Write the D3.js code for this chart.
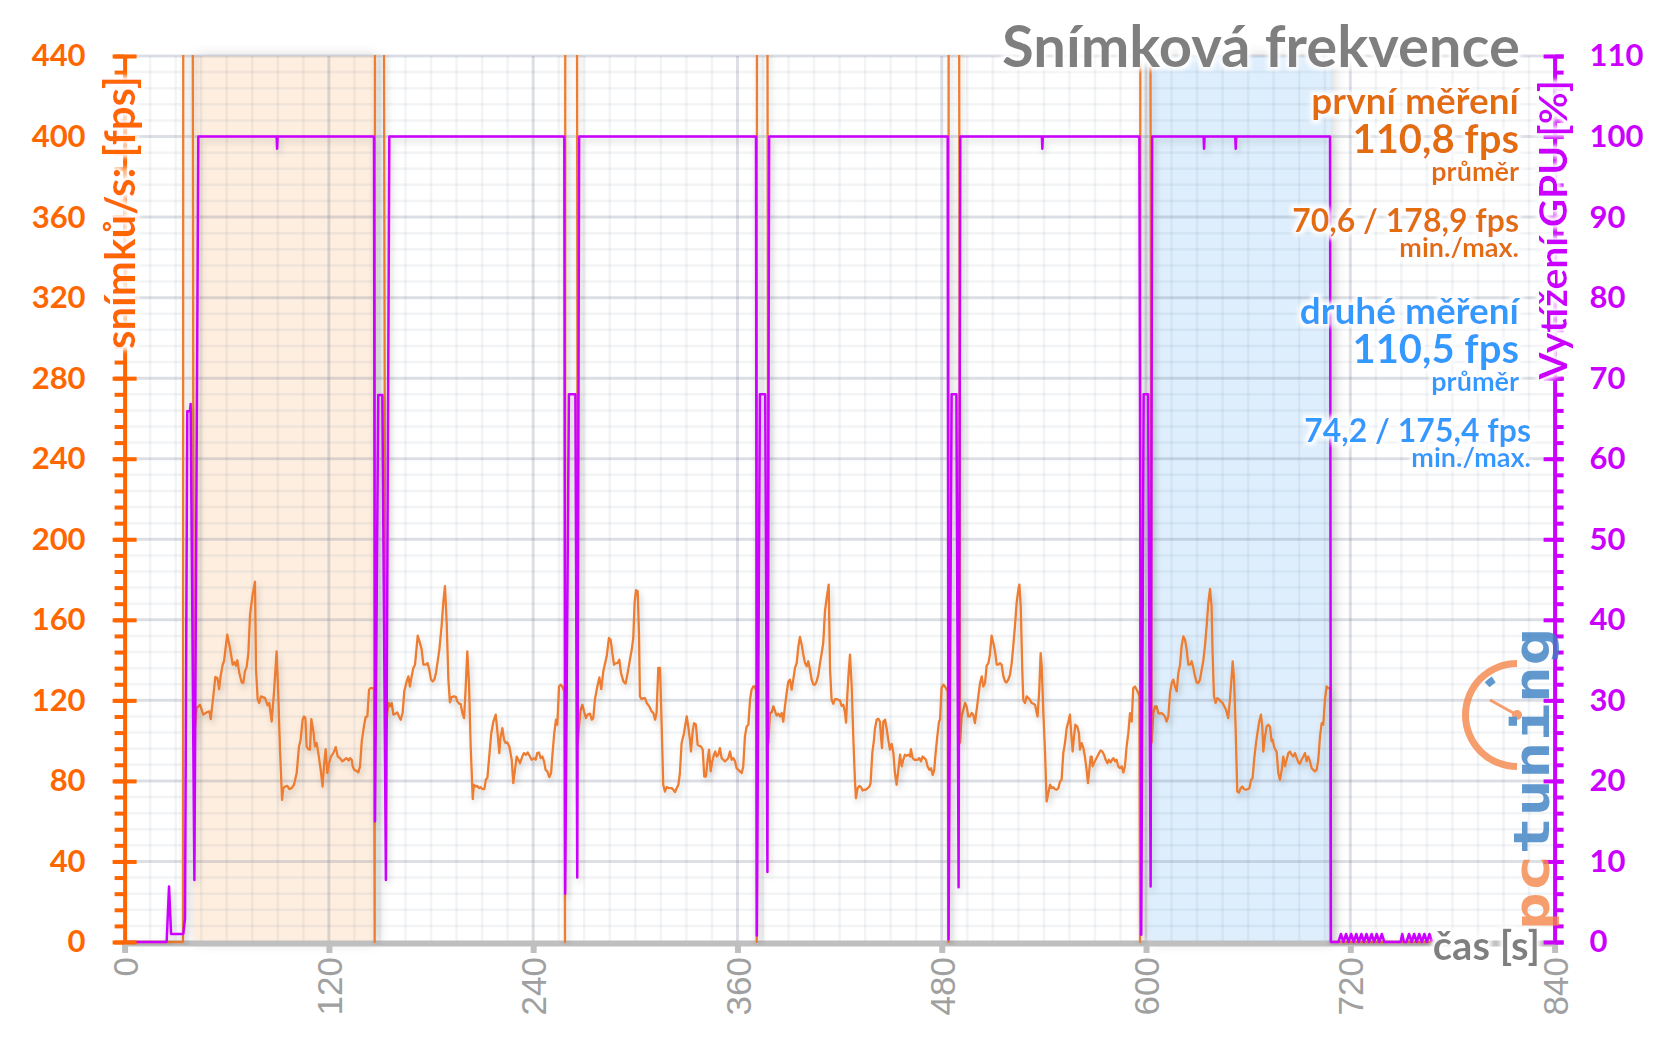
<!DOCTYPE html>
<html>
<head>
<meta charset="utf-8">
<script src="https://cdn.jsdelivr.net/npm/d3@7"></script>
<style>
body { margin: 0; background: #fff; }
svg { display: block; }
</style>
</head>
<body>
<script>
// ---- data (time in s, fps / GPU %) ----
var timeTicks = [0, 120, 240, 360, 480, 600, 720, 840];
var fpsTicks = [0, 40, 80, 120, 160, 200, 240, 280, 320, 360, 400, 440];
var gpuTicks = [0, 10, 20, 30, 40, 50, 60, 70, 80, 90, 100, 110];

var firstRunText = ["první měření", "110,8 fps", "průměr", "70,6 / 178,9 fps", "min./max."];
var secondRunText = ["druhé měření", "110,5 fps", "průměr", "74,2 / 175,4 fps", "min./max."];

var firstBand = [40.4, 146.5];
var secondBand = [601.5, 708.6];

// loading screens between the runs (fps goes far above the plot)
var fpsTransitions = [
  [0, 0], [34.3, 0], [34.5, 600], [39.8, 600], [40.6, 99],
  [146.9, 0], [147.1, 600], [152.0, 600], [153.2, 99],
  [258.7, 0], [258.9, 600], [265.6, 600], [266.2, 99],
  [371.3, 0], [371.5, 600], [377.4, 600], [378.2, 99],
  [483.9, 0], [484.1, 600], [490.0, 600], [490.8, 99],
  [596.5, 0], [596.7, 600], [602.3, 600], [603.3, 99],
  [708.5, 0], [768, 0]
];

var fpsRun1 = [
  [42.3,116.2],[44.3,117.8],[46.2,112.9],[48.2,114.0],[49.8,114.5],[50.6,110.7],[52.1,122.0],[53.3,131.6],
  [54.5,131.1],[55.5,125.6],[56.4,131.9],[57.6,137.7],[58.4,139.4],[60.3,152.6],[61.9,146.0],[63.5,137.7],
  [64.5,138.9],[65.4,137.2],[66.2,139.9],[67.4,133.6],[68.8,128.9],[69.7,128.6],[70.7,134.4],[71.7,136.6],
  [72.7,143.5],[73.7,162.6],[75.2,172.5],[76.6,178.9],[77.2,135.2],[78.2,120.3],[79.1,118.7],[80.1,122.0],
  [81.5,121.5],[82.5,121.1],[83.5,118.7],[84.0,117.5],[85.0,118.7],[86.4,109.5],[87.8,124.5],[89.3,144.3],
  [90.3,122.0],[91.3,95.5],[92.5,70.6],[93.2,76.4],[94.2,77.2],[95.6,77.5],[96.8,75.9],[98.1,76.4],
  [99.5,78.1],[101.1,83.9],[102.4,96.8],[103.4,100.4],[104.6,110.4],[105.4,112.0],[106.2,111.2],[106.9,97.1],
  [107.9,95.8],[108.9,95.5],[109.7,110.7],[110.9,104.6],[111.8,97.1],[112.8,98.8],[113.8,93.8],[115.2,85.5],
  [116.3,77.2],[117.1,87.2],[118.1,95.8],[119.1,83.9],[120.1,88.8],[121.2,92.1],[122.6,93.8],[124.0,96.8],
  [125.2,92.1],[126.5,91.3],[127.9,89.7],[129.1,90.5],[130.4,91.3],[131.6,90.1],[132.4,91.3],[133.4,90.5],
  [134.0,87.2],[134.9,85.5],[136.3,85.0],[137.3,84.2],[138.3,87.2],[139.3,99.6],[140.6,107.0],[141.6,111.7],
  [142.6,112.0],[143.6,125.3],[144.5,126.1],[145.7,126.1],[146.5,125.3]
];

var fpsRun2 = [
  [154.3,113.7],[155.1,118.7],[155.9,117.0],[156.9,118.7],[157.9,112.9],[159.2,113.4],[160.2,114.0],[161.2,112.0],
  [162.2,110.4],[163.3,113.7],[164.3,124.5],[165.7,129.4],[166.7,131.9],[167.6,126.9],[168.6,131.9],[169.6,136.1],
  [170.6,137.7],[172.2,152.1],[173.5,148.5],[174.5,145.2],[175.5,137.7],[176.9,137.7],[178.0,138.5],[179.0,135.2],
  [180.0,130.3],[181.0,129.4],[181.9,130.3],[182.9,133.6],[183.9,139.4],[184.9,145.2],[186.2,156.8],[187.2,168.4],
  [188.2,176.7],[189.2,158.4],[190.2,130.3],[191.1,119.0],[192.1,121.6],[193.5,122.0],[194.7,121.6],[195.4,119.5],
  [196.6,118.3],[197.4,118.2],[198.4,113.7],[199.4,111.2],[200.3,125.3],[201.3,144.3],[202.3,128.6],[203.3,97.1],
  [204.5,71.0],[205.2,78.1],[206.2,77.2],[207.2,77.5],[208.2,76.4],[209.2,76.9],[210.1,75.9],[211.3,75.9],
  [212.3,80.9],[213.1,81.4],[214.2,92.1],[215.4,103.7],[216.6,109.5],[218.0,112.9],[219.1,103.7],[220.1,93.8],
  [220.9,102.1],[221.9,106.2],[222.9,100.4],[223.8,98.8],[224.8,99.1],[226.0,97.1],[227.4,90.5],[228.3,78.9],
  [229.3,85.5],[230.3,92.1],[231.3,90.5],[232.3,88.8],[233.6,92.1],[234.6,93.8],[235.8,93.0],[236.8,94.1],
  [238.1,92.1],[239.1,90.5],[240.5,91.3],[241.5,90.5],[242.4,93.8],[243.4,94.1],[244.4,91.3],[245.4,92.1],
  [246.4,89.7],[247.3,85.5],[248.3,84.7],[249.5,81.9],[250.5,83.9],[251.4,93.8],[252.4,103.7],[253.4,110.4],
  [254.2,107.9],[255.2,126.9],[256.2,127.8],[257.1,126.9],[258.3,124.5]
];

var fpsRun3 = [
  [267.1,108.7],[267.9,115.3],[268.9,117.8],[269.9,114.5],[271.0,111.2],[272.0,112.9],[273.4,113.4],[274.4,110.4],
  [275.3,111.2],[276.3,120.6],[277.7,126.9],[278.9,131.4],[280.0,125.6],[281.2,134.4],[282.2,138.2],[283.2,141.9],
  [284.5,151.0],[285.5,150.1],[286.5,143.5],[287.5,137.7],[288.7,138.5],[289.6,138.5],[290.6,140.2],[291.6,133.6],
  [293.0,129.4],[294.3,128.3],[295.5,133.6],[296.9,140.5],[297.9,145.2],[298.8,151.0],[299.6,168.4],[300.4,174.7],
  [301.4,174.2],[302.2,151.8],[302.7,122.0],[303.7,120.6],[304.7,121.1],[305.7,121.1],[306.7,118.7],[308.2,117.0],
  [309.6,114.5],[310.6,113.7],[311.6,110.4],[312.5,113.7],[313.5,136.1],[314.5,136.1],[315.5,107.0],[316.4,78.1],
  [317.4,74.7],[318.4,76.9],[319.8,76.4],[321.4,76.4],[322.3,75.6],[323.3,74.4],[324.3,76.4],[325.3,78.1],
  [326.2,83.9],[327.2,98.8],[328.6,103.7],[330.2,112.0],[331.1,107.0],[332.1,100.4],[332.7,94.6],[333.7,104.6],
  [334.5,108.7],[335.6,107.9],[336.6,97.9],[337.6,97.4],[338.6,97.1],[339.6,95.5],[340.5,82.2],[341.5,82.2],
  [342.5,90.5],[343.3,95.5],[344.3,84.7],[345.2,89.7],[346.2,93.0],[347.0,94.6],[347.8,92.1],[348.8,93.0],
  [349.7,96.3],[350.7,91.3],[351.7,90.5],[352.7,89.7],[353.7,90.5],[354.6,91.3],[355.6,94.6],[356.6,90.5],
  [357.6,91.3],[358.6,89.7],[359.5,86.3],[360.5,85.5],[361.5,84.7],[362.5,83.9],[363.4,87.2],[364.4,102.1],
  [365.4,107.0],[366.4,107.9],[367.4,120.3],[368.3,125.3],[369.3,126.9],[370.3,126.9],[370.9,124.5]
];

var fpsRun4 = [
  [379.1,113.7],[380.1,114.0],[381.1,117.0],[382.1,114.5],[383.0,112.4],[384.0,113.4],[385.0,112.0],[386.0,113.7],
  [386.9,109.5],[387.9,117.0],[388.9,123.6],[389.9,129.4],[390.9,130.3],[391.8,125.3],[392.8,130.3],[393.8,136.1],
  [394.8,138.5],[395.8,146.8],[396.7,151.5],[397.7,147.7],[398.7,142.7],[399.7,138.5],[400.7,136.9],[401.6,139.4],
  [402.6,135.2],[403.6,130.3],[404.6,127.8],[405.5,127.8],[406.5,129.4],[407.5,132.7],[408.5,138.5],[409.5,143.5],
  [410.4,148.5],[411.4,164.2],[412.4,170.8],[413.6,177.5],[414.4,135.2],[415.3,120.3],[416.3,118.3],[417.3,120.6],
  [418.3,120.6],[419.2,120.3],[420.2,120.0],[421.2,117.3],[422.2,117.8],[423.2,113.7],[423.8,109.0],[424.5,122.0],
  [425.3,133.6],[426.1,142.7],[427.1,126.9],[428.1,100.4],[429.0,80.5],[429.6,71.4],[430.6,76.4],[431.6,77.5],
  [432.6,76.9],[433.5,75.2],[434.5,75.6],[435.5,75.6],[436.5,76.4],[437.5,77.2],[438.2,78.9],[439.2,93.8],
  [440.2,100.4],[440.8,106.2],[441.8,110.4],[442.7,110.9],[443.7,109.5],[444.3,102.1],[444.9,96.3],[445.7,109.5],
  [446.7,110.4],[447.6,106.2],[448.6,100.4],[449.6,95.5],[450.6,98.4],[451.6,93.8],[452.5,83.9],[453.5,78.1],
  [454.5,85.5],[455.5,93.0],[456.5,87.2],[457.4,90.5],[458.4,93.0],[459.4,92.5],[460.4,93.0],[461.4,92.1],
  [461.9,95.8],[462.9,91.3],[463.9,90.5],[464.9,90.5],[465.9,90.5],[466.8,91.3],[467.8,89.7],[468.8,92.1],
  [469.8,91.3],[470.7,90.5],[471.7,87.2],[472.7,85.5],[473.7,86.3],[474.7,83.0],[475.6,85.5],[476.4,93.8],
  [477.4,102.1],[478.4,109.5],[479.0,110.4],[479.9,126.1],[480.9,127.8],[481.9,126.9],[482.9,125.3],[483.5,124.5]
];

var fpsRun5 = [
  [491.7,112.0],[492.7,115.3],[493.7,118.7],[494.6,117.0],[495.6,112.0],[496.6,112.0],[497.6,113.7],[498.5,112.9],
  [499.5,108.7],[500.5,115.3],[501.5,122.0],[502.5,128.6],[503.5,131.9],[504.4,126.9],[505.4,128.6],[506.4,137.2],
  [507.4,138.5],[508.3,142.7],[509.3,152.1],[510.3,148.5],[511.3,144.3],[512.3,137.7],[513.2,137.7],[514.2,138.5],
  [515.2,137.7],[516.2,131.9],[517.2,129.4],[518.1,128.9],[519.1,130.3],[520.1,132.7],[521.1,138.5],[522.0,146.8],
  [523.0,156.8],[524.0,168.4],[525.0,175.0],[525.6,177.5],[526.4,166.7],[527.3,135.2],[527.9,120.3],[528.9,118.7],
  [529.9,122.0],[530.9,121.1],[531.8,120.3],[532.8,118.7],[533.8,118.3],[534.8,117.8],[535.8,113.7],[536.3,112.0],
  [537.3,125.3],[538.1,143.5],[538.7,137.2],[539.7,113.7],[540.7,93.8],[541.6,69.8],[542.6,73.9],[543.6,78.1],
  [544.6,76.4],[545.5,76.9],[546.5,75.9],[547.5,75.6],[548.5,76.4],[549.5,79.7],[550.4,80.5],[551.4,93.8],
  [552.4,98.8],[553.4,106.2],[554.4,109.5],[555.3,112.9],[555.9,105.4],[556.9,94.6],[557.7,102.1],[558.5,107.9],
  [559.6,107.0],[560.6,103.7],[561.2,95.5],[562.2,98.8],[563.2,96.3],[564.1,92.1],[565.1,85.5],[565.9,78.9],
  [566.7,85.5],[567.5,92.1],[568.1,92.1],[568.6,87.2],[569.4,88.8],[570.4,90.5],[571.4,92.1],[572.4,93.8],
  [573.3,95.1],[574.3,94.6],[575.3,93.0],[576.3,90.5],[577.3,88.8],[578.2,90.5],[579.2,89.2],[580.2,90.7],
  [580.8,91.3],[581.8,89.7],[582.7,90.5],[583.7,87.2],[584.7,86.3],[585.7,87.2],[586.7,84.2],[587.6,87.2],
  [588.6,97.1],[589.6,103.7],[590.6,113.7],[591.6,109.5],[592.5,126.1],[593.5,126.9],[594.5,125.3],[595.5,123.6],
  [596.1,122.0]
];

var fpsRun6 = [
  [604.3,113.7],[605.3,117.0],[606.2,117.0],[607.2,113.7],[608.2,113.4],[609.2,113.7],[610.2,112.9],[611.1,112.0],
  [612.1,109.5],[613.1,112.0],[614.1,123.6],[615.1,128.6],[616.0,130.3],[617.0,126.9],[618.0,124.5],[619.0,133.6],
  [620.0,137.7],[620.9,146.8],[621.9,151.8],[622.9,150.1],[623.9,145.2],[624.8,137.7],[625.8,137.7],[626.8,139.4],
  [627.8,136.1],[628.8,131.9],[629.7,128.9],[630.7,128.6],[631.7,130.3],[632.7,135.2],[633.6,139.4],[634.6,146.8],
  [635.6,156.8],[636.6,168.4],[637.6,175.4],[638.5,166.7],[639.1,143.5],[639.9,122.0],[640.9,118.7],[641.9,121.1],
  [642.9,120.6],[643.8,119.5],[645.0,118.7],[646.0,117.0],[647.0,115.3],[648.3,111.2],[649.3,120.3],[650.3,131.9],
  [650.9,139.4],[651.7,130.3],[652.6,107.0],[653.6,74.7],[654.6,74.2],[655.6,76.4],[656.6,77.2],[657.5,75.9],
  [658.7,75.6],[659.7,75.9],[660.7,76.4],[661.7,80.5],[662.6,81.4],[663.6,91.3],[664.6,98.8],[665.6,104.6],
  [666.5,109.5],[667.5,112.9],[668.3,107.0],[668.9,94.6],[669.9,102.1],[670.9,107.0],[671.8,107.9],[672.8,107.0],
  [673.8,99.6],[674.4,100.4],[675.2,97.1],[675.8,95.8],[676.7,94.6],[677.7,83.9],[678.7,80.5],[679.7,85.5],
  [680.6,92.1],[681.6,87.2],[682.6,90.5],[683.6,93.8],[684.6,94.6],[685.5,93.0],[686.5,92.1],[687.5,93.8],
  [688.5,91.3],[689.5,89.2],[690.4,88.5],[691.4,90.5],[692.4,92.1],[693.4,93.8],[694.3,89.7],[695.3,92.1],
  [696.3,89.7],[697.3,86.3],[698.3,85.5],[699.2,84.7],[700.2,85.5],[701.2,90.5],[702.2,102.1],[703.2,108.7],
  [704.1,107.9],[705.1,120.3],[706.1,126.9],[707.1,126.1],[708.1,126.1]
];

var gpuLoad = [
  [0,0],[24.7,0],[26.1,6.9],[27.3,1],[34.5,1],[35.5,2.9],[36.8,65.9],[38.4,65.9],[38.8,66.8],[41.0,7.7],[43.3,100],
  [89.3,100],[89.6,98.5],[89.9,100],
  [146.5,100],[147.1,15],[149.0,67.9],[151.4,67.9],[153.5,7.7],[155.5,100],
  [258.3,100],[258.8,6],[261.0,68],[264.8,68],[265.9,8],[267.0,100],
  [370.9,100],[371.4,0.8],[373.2,68],[376.3,68],[377.6,8.7],[378.6,100],
  [483.5,100],[484.0,0.3],[485.8,68],[488.6,68],[489.9,6.8],[490.9,100],
  [538.8,100],[539.1,98.5],[539.4,100],
  [596.1,100],[597.2,0.9],[598.6,68],[601.2,68],[602.7,6.9],[603.6,100],
  [633.8,100],[634.1,98.5],[634.4,100],
  [652.4,100],[652.7,98.5],[653.0,100],
  [708.1,100],[708.6,0],[713,0],[714.5,1],[716,0],[717.5,1],[719,0],[720.5,1],[722,0],[723.5,1],[725,0],
  [726.5,1],[728,0],[729.5,1],[731,0],[732.5,1],[734,0],[735.5,1],[737,0],[738.5,1],[740,0],
  [749.5,0],[750.5,1],[751.5,0],[753,0],[754.5,1],[756,0],[757.5,1],[759,0],[760.5,1],[762,0],[763.5,1],
  [765,0],[766.5,1],[768,0]
];

// ---- chart ----
var W = 1656, H = 1044;
var plotLeft = 124.6, plotRight = 1554.6, plotTop = 56, plotBottom = 942;
var orange = "#FF6600", purple = "#CC00FF", annOrange = "#E36C0A", annBlue = "#3399FF", gray = "#7F7F7F";

var svg = d3.select("body").append("svg")
    .attr("width", W)
    .attr("height", H)
    .style("font-family", "Lato, 'Open Sans', sans-serif");

var x = d3.scaleLinear().domain([0, 840]).range([plotLeft, plotRight]);
var yFps = d3.scaleLinear().domain([0, 440]).range([plotBottom, plotTop]);
var yGpu = d3.scaleLinear().domain([0, 110]).range([plotBottom, plotTop]);

var defs = svg.append("defs");

var glow = defs.append("filter").attr("id", "glow")
    .attr("x", "-10%").attr("y", "-40%").attr("width", "120%").attr("height", "180%");
glow.append("feMorphology").attr("in", "SourceAlpha").attr("operator", "dilate").attr("radius", 2.5).attr("result", "d");
glow.append("feGaussianBlur").attr("in", "d").attr("stdDeviation", 2).attr("result", "b");
glow.append("feFlood").attr("flood-color", "#fff").attr("result", "w");
glow.append("feComposite").attr("in", "w").attr("in2", "b").attr("operator", "in").attr("result", "g");
var merge = glow.append("feMerge");
merge.append("feMergeNode").attr("in", "g");
merge.append("feMergeNode").attr("in", "SourceGraphic");

defs.append("filter").attr("id", "lineShadow")
    .attr("x", "-5%").attr("y", "-5%").attr("width", "110%").attr("height", "115%")
    .append("feDropShadow")
    .attr("dx", 2).attr("dy", 4).attr("stdDeviation", 3)
    .attr("flood-color", "#000").attr("flood-opacity", 0.18);

defs.append("filter").attr("id", "bandShadow")
    .attr("x", "-20%").attr("y", "-5%").attr("width", "140%").attr("height", "110%")
    .append("feGaussianBlur").attr("stdDeviation", 7);

defs.append("clipPath").attr("id", "plotClip")
    .append("rect")
    .attr("x", plotLeft - 2).attr("y", plotTop - 1)
    .attr("width", plotRight - plotLeft + 4).attr("height", plotBottom - plotTop + 4);

// bands (first and second measurement)
var bands = [
    {r: firstBand, c: "#FDEEE0"},
    {r: secondBand, c: "#DEEEFC"}
];

svg.append("g").selectAll("rect")
    .data(bands)
    .enter()
        .append("rect")
        .attr("x", function (d) { return x(d.r[0]) + 3; })
        .attr("y", plotTop)
        .attr("width", function (d) { return x(d.r[1]) - x(d.r[0]); })
        .attr("height", plotBottom - plotTop)
        .attr("fill", "#000")
        .attr("opacity", 0.16)
        .attr("filter", "url(#bandShadow)");

svg.append("g").selectAll("rect")
    .data(bands)
    .enter()
        .append("rect")
        .attr("x", function (d) { return x(d.r[0]); })
        .attr("y", plotTop)
        .attr("width", function (d) { return x(d.r[1]) - x(d.r[0]); })
        .attr("height", plotBottom - plotTop)
        .attr("fill", function (d) { return d.c; });

// grid
var grid = svg.append("g");
grid.selectAll(".hmin")
    .data(d3.range(0, 441, 8))
    .enter()
        .append("line")
        .attr("x1", plotLeft).attr("x2", plotRight)
        .attr("y1", function (d) { return yFps(d); })
        .attr("y2", function (d) { return yFps(d); })
        .attr("stroke", "rgba(110,125,155,0.085)")
        .attr("stroke-width", 2.5);
grid.selectAll(".vmin")
    .data(d3.range(15, 841, 15))
    .enter()
        .append("line")
        .attr("y1", plotTop).attr("y2", plotBottom)
        .attr("x1", function (d) { return x(d); })
        .attr("x2", function (d) { return x(d); })
        .attr("stroke", "rgba(110,125,155,0.085)")
        .attr("stroke-width", 2.5);
grid.selectAll(".hmaj")
    .data(fpsTicks.slice(1))
    .enter()
        .append("line")
        .attr("x1", plotLeft).attr("x2", plotRight)
        .attr("y1", function (d) { return yFps(d); })
        .attr("y2", function (d) { return yFps(d); })
        .attr("stroke", "rgba(120,130,155,0.19)")
        .attr("stroke-width", 3);
grid.selectAll(".vmaj")
    .data(timeTicks.slice(1, -1))
    .enter()
        .append("line")
        .attr("y1", plotTop).attr("y2", plotBottom)
        .attr("x1", function (d) { return x(d); })
        .attr("x2", function (d) { return x(d); })
        .attr("stroke", "rgba(120,130,155,0.19)")
        .attr("stroke-width", 3);

// x axis
var xAxis = svg.append("g")
    .attr("transform", "translate(0," + (plotBottom + 1) + ")")
    .attr("color", "#BFBFBF")
    .call(d3.axisBottom(x).tickValues(timeTicks).tickSize(10).tickSizeOuter(0));
xAxis.select(".domain").attr("stroke-width", 6);
xAxis.selectAll(".tick line").attr("stroke-width", 6);
xAxis.selectAll(".tick text")
    .attr("fill", "#A0A0A0")
    .attr("x", 0).attr("y", 0).attr("dy", "0.36em")
    .attr("text-anchor", "end")
    .attr("transform", "translate(0,14) rotate(-90)")
    .style("font-family", "'Liberation Sans', Arial, sans-serif")
    .style("font-size", "35px");

// series
var fpsAll = fpsTransitions.concat(fpsRun1, fpsRun2, fpsRun3, fpsRun4, fpsRun5, fpsRun6)
    .sort(function (a, b) { return a[0] - b[0]; });

var plot = svg.append("g").attr("clip-path", "url(#plotClip)");

plot.append("path")
    .datum(fpsAll)
    .attr("d", d3.line().x(function (d) { return x(d[0]); }).y(function (d) { return yFps(d[1]); }))
    .attr("fill", "none")
    .attr("stroke", "#ED7D31")
    .attr("stroke-width", 2.3)
    .attr("stroke-linejoin", "round")
    .attr("filter", "url(#lineShadow)");

plot.append("path")
    .datum(gpuLoad)
    .attr("d", d3.line().x(function (d) { return x(d[0]); }).y(function (d) { return yGpu(d[1]); }))
    .attr("fill", "none")
    .attr("stroke", purple)
    .attr("stroke-width", 2.5)
    .attr("stroke-linejoin", "round")
    .attr("filter", "url(#lineShadow)");

// left axis (fps)
var lMinor = svg.append("g")
    .attr("transform", "translate(" + plotLeft + ",0)")
    .attr("color", orange)
    .call(d3.axisLeft(yFps).tickValues(d3.range(0, 441, 8)).tickSize(10).tickSizeOuter(0).tickFormat(""));
lMinor.select(".domain").attr("stroke-width", 4);
lMinor.selectAll(".tick line").attr("stroke-width", 4);

var lMajor = svg.append("g")
    .attr("transform", "translate(" + plotLeft + ",0)")
    .attr("color", orange)
    .call(d3.axisLeft(yFps).tickValues(fpsTicks).tickSize(12).tickSizeOuter(0).tickPadding(27));
lMajor.select(".domain").remove();
lMajor.selectAll(".tick line").attr("stroke-width", 4);
lMajor.selectAll(".tick text")
    .attr("fill", orange)
    .style("font-family", "Lato, sans-serif")
    .style("font-weight", "bold")
    .style("font-size", "31px");

var lInner = svg.append("g")
    .attr("transform", "translate(" + plotLeft + ",0)")
    .attr("color", orange)
    .call(d3.axisRight(yFps).tickValues(fpsTicks).tickSize(12).tickSizeOuter(0).tickFormat(""));
lInner.select(".domain").remove();
lInner.selectAll(".tick line").attr("stroke-width", 4);

// right axis (GPU)
var rMinor = svg.append("g")
    .attr("transform", "translate(" + plotRight + ",0)")
    .attr("color", purple)
    .call(d3.axisRight(yGpu).tickValues(d3.range(0, 111, 2)).tickSize(9).tickSizeOuter(0).tickFormat(""));
rMinor.select(".domain").attr("stroke-width", 4);
rMinor.selectAll(".tick line").attr("stroke-width", 4);

var rMajor = svg.append("g")
    .attr("transform", "translate(" + plotRight + ",0)")
    .attr("color", purple)
    .call(d3.axisRight(yGpu).tickValues(gpuTicks).tickSize(9).tickSizeOuter(0).tickPadding(26));
rMajor.select(".domain").remove();
rMajor.selectAll(".tick line").attr("stroke-width", 4);
rMajor.selectAll(".tick text")
    .attr("fill", purple)
    .style("font-family", "Lato, sans-serif")
    .style("font-weight", "bold")
    .style("font-size", "31px");

var rInner = svg.append("g")
    .attr("transform", "translate(" + plotRight + ",0)")
    .attr("color", purple)
    .call(d3.axisLeft(yGpu).tickValues(gpuTicks).tickSize(11).tickSizeOuter(0).tickFormat(""));
rInner.select(".domain").remove();
rInner.selectAll(".tick line").attr("stroke-width", 4);

// axis titles
svg.append("text")
    .attr("transform", "translate(135,76) rotate(-90)")
    .attr("text-anchor", "end")
    .attr("fill", orange)
    .attr("filter", "url(#glow)")
    .style("font-weight", "bold")
    .style("font-size", "42px")
    .text("snímků/s: [fps]");

svg.append("text")
    .attr("transform", "translate(1567,80) rotate(-90)")
    .attr("text-anchor", "end")
    .attr("fill", purple)
    .attr("filter", "url(#glow)")
    .style("font-weight", "bold")
    .style("font-size", "39px")
    .text("Vytížení GPU [%]");

svg.append("text")
    .attr("x", 1540).attr("y", 960)
    .attr("text-anchor", "end")
    .attr("fill", gray)
    .attr("filter", "url(#glow)")
    .style("font-weight", "bold")
    .style("font-size", "40px")
    .text("čas [s]");

// title
svg.append("text")
    .attr("x", 1520).attr("y", 67)
    .attr("text-anchor", "end")
    .attr("fill", gray)
    .attr("filter", "url(#glow)")
    .style("font-weight", "bold")
    .style("font-size", "58px")
    .text("Snímková frekvence");

// annotations
var annLayout = [
    {dy: 0, size: 37},
    {dy: 39, size: 40},
    {dy: 67, size: 27},
    {dy: 118, size: 32},
    {dy: 143, size: 27}
];

function annotate(lines, color, y0, xs) {
    svg.append("g")
        .selectAll("text")
        .data(lines)
        .enter()
            .append("text")
            .attr("x", function (d, i) { return xs[i]; })
            .attr("y", function (d, i) { return y0 + annLayout[i].dy; })
            .attr("text-anchor", "end")
            .attr("fill", color)
            .attr("filter", "url(#glow)")
            .style("font-weight", "bold")
            .style("font-size", function (d, i) { return annLayout[i].size + "px"; })
            .text(function (d) { return d; });
}
annotate(firstRunText, annOrange, 114, [1519, 1519, 1519, 1519, 1519]);
annotate(secondRunText, annBlue, 324, [1519, 1519, 1519, 1531, 1531]);

// pctuning logo
var logo = svg.append("g").attr("opacity", 0.8);
logo.append("path")
    .attr("transform", "translate(1517,715)")
    .attr("d", d3.arc()({innerRadius: 48, outerRadius: 55, startAngle: Math.PI, endAngle: 2 * Math.PI}))
    .attr("fill", "#F4874B");
logo.append("path")
    .attr("transform", "translate(1517,715)")
    .attr("d", d3.arc()({innerRadius: 39, outerRadius: 46, startAngle: 2 * Math.PI - 0.78, endAngle: 2 * Math.PI - 0.58}))
    .attr("fill", "#3A7FC1");
logo.append("line")
    .attr("x1", 1517).attr("y1", 715).attr("x2", 1490).attr("y2", 700)
    .attr("stroke", "#F4874B").attr("stroke-width", 3);
logo.append("circle")
    .attr("cx", 1517).attr("cy", 715).attr("r", 5)
    .attr("fill", "#F4874B");
var logoText = logo.append("text")
    .attr("transform", "translate(1549,930) rotate(-90)")
    .attr("textLength", 302)
    .attr("lengthAdjust", "spacingAndGlyphs")
    .style("font-family", "'DejaVu Sans Mono', monospace")
    .style("font-weight", "bold")
    .style("font-size", "50px");
logoText.append("tspan").attr("fill", "#F4874B").text("pc");
logoText.append("tspan").attr("fill", "#3A7FC1").text("tuning");
</script>
</body>
</html>
